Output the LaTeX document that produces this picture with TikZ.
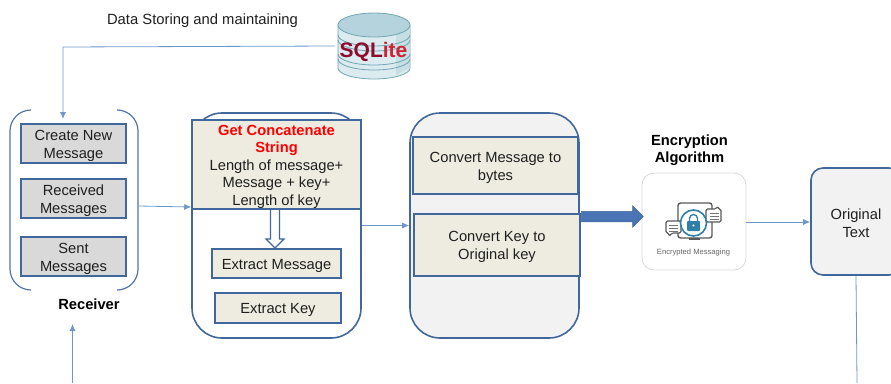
\documentclass[tikz,border=0pt]{standalone}
\usepackage{fontspec}
\setmainfont{Liberation Sans}
\usetikzlibrary{arrows.meta,shapes.arrows}
\definecolor{edgeblue}{HTML}{41689C}
\definecolor{linkblue}{HTML}{6F96CC}
\definecolor{arrowblue}{HTML}{4A74B4}
\definecolor{beige}{HTML}{EEECE1}
\definecolor{panel}{HTML}{F2F2F2}
\definecolor{grayfill}{HTML}{D9D9D9}
\definecolor{txt}{HTML}{1F1F1F}
\definecolor{dbline}{HTML}{6FA6B4}
\definecolor{dbbody}{HTML}{DCEBEF}
\definecolor{dbtop}{HTML}{B4D3DC}
\definecolor{dbshade}{HTML}{C6DEE4}
\definecolor{locktone}{HTML}{2F7FA6}
\newcommand{\upl}{\rule{0pt}{14.5pt}}
\tikzset{
  base/.style={inner sep=0pt,text=txt,align=center,font=\fontsize{14.7}{17.6}\selectfont},
  graybox/.style={base,draw=edgeblue,line width=1.6pt,fill=grayfill,minimum width=105pt},
  beigebox/.style={base,draw=edgeblue,line width=1.5pt,fill=beige},
  panelbox/.style={base,draw=edgeblue,line width=1.6pt,rounded corners=30pt,minimum width=169pt,minimum height=225pt},
  heading/.style={base,text=black,font=\fontsize{14.7}{17.6}\selectfont\bfseries},
  link/.style={draw=linkblue,line width=0.8pt,-{Latex[length=7pt,width=6pt]}},
  plainlink/.style={draw=linkblue,line width=0.8pt},
  bracket/.style={draw=edgeblue!70!linkblue,line width=1.2pt},
  dbring/.style={draw=dbline,line width=0.8pt},
}
\begin{document}
\begin{tikzpicture}[x=1pt,y=-1pt]
\clip (0,0) rectangle (891,383);
\useasboundingbox (0,0) rectangle (891,383);
% Receiver group
\node[base,minimum width=129pt,minimum height=180pt] (recv) at (73.7,200) {};
\draw[bracket] (31,110) arc[start angle=270,end angle=180,radius=21] -- (10,269) arc[start angle=180,end angle=90,radius=21];
\draw[bracket] (117,110) arc[start angle=-90,end angle=0,radius=21] -- (138,269) arc[start angle=0,end angle=90,radius=21];
\node[graybox,minimum height=39pt] (create) at (73.5,143.5) {\upl Create New\\Message};
\node[graybox,minimum height=39pt] (received) at (73.5,198.5) {\upl Received\\Messages};
\node[graybox,minimum height=39pt] (sent) at (73.5,256.5) {\upl Sent\\Messages};
\node[heading] (receiver) at (89,302.5) {\upl Receiver};
% Middle panel
\node[panelbox,fill=white] (midpanel) at (276.5,225.5) {};
\node[beigebox,minimum width=169pt,minimum height=89pt] (concat) at (276.5,164.5) {\upl\textcolor{red}{\bfseries Get Concatenate}\\\textcolor{red}{\bfseries String}\\Length of message+\\Message + key+\\Length of key};
\node[beigebox,minimum width=129pt,minimum height=29pt] (exmsg) at (276.5,263.5) {\upl Extract Message};
\node[beigebox,minimum width=126pt,minimum height=30pt] (exkey) at (278,308) {\upl Extract Key};
\draw[edgeblue,line width=1.1pt,fill=white] (270.5,210) -- (270.5,239) -- (266,239) -- (275,248) -- (284,239) -- (279.5,239) -- (279.5,210);
% Right panel
\node[panelbox,fill=panel] (rightpanel) at (494.5,225.5) {};
\node[beigebox,minimum width=165pt,minimum height=57pt] (tobytes) at (495.5,165.5) {\upl Convert Message to\\bytes};
\node[beigebox,minimum width=166pt,minimum height=62pt] (tokey) at (497,245) {\upl Convert Key to\\Original key};
% Encryption card
\node[heading] (enclabel) at (689.5,148.5) {\upl Encryption\\Algorithm};
\node[draw=black!15,line width=0.8pt,fill=white,rounded corners=12pt,minimum width=104pt,minimum height=97pt,inner sep=0pt] (card) at (694,221.5) {};
\draw[black!65,line width=1.4pt,fill=white,rounded corners=2.5pt] (678,203) rectangle (712,238);
\fill[black!65] (689,238) rectangle (700,240);
\draw[black!65,line width=1.1pt,fill=white,rounded corners=1.5pt] (666,221) -- (681,221) -- (681,233) -- (672,233) -- (669,236.5) -- (669,233) -- (666,233) -- cycle;
\draw[black!65,line width=1.1pt,fill=white,rounded corners=1.5pt] (706,209) -- (716,209) -- (718,206) -- (718,209) -- (721,209) -- (721,222) -- (706,222) -- cycle;
\foreach \yy in {225,228,231}{\draw[black!55,line width=0.7pt] (669,\yy) -- (678,\yy);}
\foreach \yy in {213,216,219}{\draw[black!55,line width=0.7pt] (710,\yy) -- (719,\yy);}
\draw[locktone,line width=1.6pt,fill=white] (693.5,223) circle[radius=13];
\fill[locktone,rounded corners=1pt] (687,221) rectangle (700,231);
\draw[locktone,line width=1.3pt] (689.5,221) -- (689.5,218.5) arc[start angle=180,end angle=360,radius=4] -- (697.5,221);
\fill[white] (693.5,225.5) circle[radius=1.2];
\node[inner sep=0pt,text=black!60,font=\fontsize{7.6}{9}\selectfont] (cardcaption) at (693.5,252.5) {Encrypted Messaging};
% Original text
\node[base,draw=edgeblue,line width=1.6pt,fill=panel,rounded corners=12pt,minimum width=90pt,minimum height=107pt] (orig) at (856,221.5) {\upl Original\\Text};
% SQLite cylinder
\draw[dbring,fill=dbbody] (338,25) -- (338,68) arc[x radius=36,y radius=11,start angle=180,end angle=0] -- (410,25) -- cycle;
\fill[dbshade] (396,32) -- (409.5,28) -- (409.5,68) -- (396,75) -- cycle;
\draw[dbring,fill=dbtop] (374,25) ellipse[x radius=36,y radius=12];
\foreach \yy in {35,40,54,59}{\draw[dbring] (338,\yy) arc[x radius=36,y radius=11,start angle=180,end angle=0];}
\node[inner sep=0pt,font=\fontsize{21}{22}\selectfont\bfseries] (sqlite) at (373.5,52) {\textcolor[HTML]{8E0A2E}{SQL}\textcolor[HTML]{CF2233}{ite}};
\coordinate (dbleft) at (335,46);
\node[base,font=\fontsize{14.8}{17}\selectfont] (datalabel) at (202.5,19) {\upl Data Storing and maintaining};
% Connectors
\coordinate (bottomin) at (72.5,383);
\coordinate (bottomout) at (857,383);
\coordinate (intop) at (63,119);
\coordinate (belowrecv) at (72.5,324);
\draw[link] (dbleft) -- (63,47) -- (intop);
\draw[link] (bottomin) -- (belowrecv);
\draw[link] (recv.east |- 0,206) -- (concat.west |- 0,207);
\draw[link] (midpanel.east |- 0,225.5) -- (rightpanel.west |- 0,225.5);
\draw[link] (card.east |- 0,222) -- (orig.west |- 0,222);
\draw[plainlink] (orig.south) -- (bottomout);
% Thick arrow
\node[single arrow,draw=edgeblue,fill=arrowblue,line width=0.5pt,inner xsep=0pt,inner ysep=5pt,single arrow head extend=5.5pt,single arrow tip angle=90,single arrow head indent=0pt,minimum height=62pt,anchor=west] (bigarrow) at (581,216.5) {};
\end{tikzpicture}
\end{document}
